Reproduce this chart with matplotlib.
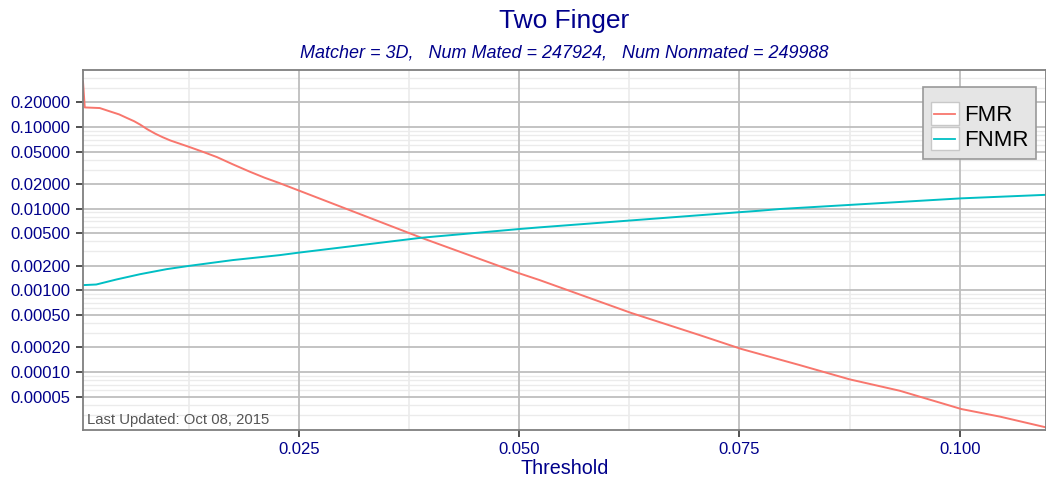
import matplotlib
matplotlib.use("Agg")
import matplotlib.pyplot as plt
from matplotlib.patches import Rectangle
from matplotlib.lines import Line2D
from matplotlib.legend_handler import HandlerBase
import numpy as np

# ---- data ----
fmr_thr = [0.0005, 0.0007, 0.0024, 0.0036, 0.0046, 0.0055, 0.0063, 0.0070, 0.0078, 0.0087,
           0.0095, 0.0104, 0.0115, 0.0126, 0.0141, 0.0157, 0.0175, 0.0194, 0.0211,
           0.0228, 0.0250, 0.0389, 0.0500, 0.0523, 0.0627, 0.0705,
           0.0752, 0.0818, 0.0875, 0.0932, 0.1002, 0.1046, 0.1098]
fmr_val = [0.36, 0.174, 0.171, 0.155, 0.143, 0.129, 0.118, 0.107, 0.094, 0.083,
           0.0755, 0.0686, 0.0625, 0.0569, 0.0498, 0.0429, 0.0350, 0.0285, 0.0240,
           0.0206, 0.0167, 0.00441, 0.00162, 0.00134, 0.00053, 0.000283,
           0.000192, 0.000122, 0.0000814, 0.000059, 0.0000352, 0.0000284, 0.0000210]

fnmr_thr = [0.0005, 0.0020, 0.0043, 0.0070, 0.0100, 0.0126, 0.0175, 0.0228, 0.0250,
            0.0389, 0.0500, 0.0523, 0.0752, 0.0773, 0.0796, 0.1002, 0.1098]
fnmr_val = [0.00116, 0.00118, 0.00136, 0.00158, 0.00182, 0.00200, 0.00235, 0.00270, 0.0029,
            0.00441, 0.00564, 0.00591, 0.0091, 0.00945, 0.00992, 0.0134, 0.0148]

series_names = ["FMR", "FNMR"]
series_colors = ["#F8766D", "#00BFC4"]

x_ticks = [0.025, 0.050, 0.075, 0.100]
x_tick_labels = ["0.025", "0.050", "0.075", "0.100"]
x_minor = [0.0125, 0.0375, 0.0625, 0.0875]
y_ticks = [0.00005, 0.0001, 0.0002, 0.0005, 0.001, 0.002, 0.005, 0.01, 0.02, 0.05, 0.1, 0.2]
y_tick_labels = ["%.5f" % v for v in y_ticks]

title = "Two Finger"
subtitle = "Matcher = 3D,   Num Mated = 247924,   Num Nonmated = 249988"
xlabel = "Threshold"
note = "Last Updated: Oct 08, 2015"

# ---- style ----
plt.rcParams['font.family'] = ['Liberation Sans', 'DejaVu Sans']
navy = "#00008B"
W, H = 1046, 478
fig = plt.figure(figsize=(W / 100, H / 100), dpi=100)
L, R, T, B = 83, 1046, 70, 430
ax = fig.add_axes([L / W, (H - B) / H, (R - L) / W, (B - T) / H])
ax.set_facecolor("white")

ax.set_yscale("log")
ax.set_xlim(0.0005, 0.1098)
ax.set_ylim(1.95e-5, 0.5)

# minor grid
y_minor = []
for dec in [1e-5, 1e-4, 1e-3, 1e-2, 1e-1]:
    for m in [3, 4, 6, 7, 8, 9]:
        y_minor.append(m * dec)
for yv in y_minor:
    ax.axhline(yv, color="#EBEBEB", lw=1.0, zorder=0)
for xv in x_minor:
    ax.axvline(xv, color="#EBEBEB", lw=1.2, zorder=0)
# major grid
for yv in y_ticks:
    ax.axhline(yv, color="#BEBEBE", lw=1.3, zorder=0.5)
for xv in x_ticks:
    ax.axvline(xv, color="#BEBEBE", lw=1.3, zorder=0.5)

lines = []
for thr, val, name, col in zip([fmr_thr, fnmr_thr], [fmr_val, fnmr_val], series_names, series_colors):
    ln, = ax.plot(thr, val, color=col, lw=1.4, label=name, zorder=2)
    lines.append(ln)

ax.set_xticks(x_ticks)
ax.set_xticklabels(x_tick_labels)
ax.set_yticks(y_ticks)
ax.set_yticklabels(y_tick_labels)
ax.yaxis.set_minor_locator(matplotlib.ticker.NullLocator())
ax.tick_params(axis="both", which="major", labelsize=12, labelcolor=navy,
               color="#333333", length=5, width=1.2, pad=4)

for s in ax.spines.values():
    s.set_color("#7F7F7F")
    s.set_linewidth(1.3)

ax.set_xlabel(xlabel, fontsize=14.2, color=navy, labelpad=1)

cx = (L + R) / 2 / W
fig.text(cx, 1 - 21 / H, title, ha="center", va="center", fontsize=19, color=navy)
fig.text(cx, 1 - 53 / H, subtitle, ha="center", va="center", fontsize=13,
         color=navy, style="italic")

ax.text(0.004, 0.008, note, transform=ax.transAxes, fontsize=10.7, color="#555555",
        ha="left", va="bottom")


class KeyHandler(HandlerBase):
    def create_artists(self, legend, orig_handle, xdescent, ydescent, width, height,
                       fontsize, trans):
        rect = Rectangle((-xdescent, -ydescent), width, height, facecolor="white",
                         edgecolor="#C8C8C8", lw=1.0, transform=trans)
        y = -ydescent + height / 2
        ln = Line2D([-xdescent + width * 0.12, -xdescent + width * 0.88], [y, y],
                    color=orig_handle.get_color(), lw=1.3, transform=trans)
        return [rect, ln]


leg = ax.legend(handles=lines, loc="upper right", bbox_to_anchor=(0.990, 0.954),
                borderaxespad=0, fontsize=16, handler_map={Line2D: KeyHandler()},
                handlelength=1.25, handleheight=1.2, handletextpad=0.25,
                labelspacing=0.05, borderpad=0.35, fancybox=False,
                title=" ", title_fontsize=5)
leg.get_frame().set_facecolor("#E5E5E5")
leg.get_frame().set_edgecolor("#999999")
leg.get_frame().set_linewidth(1.2)
leg.get_frame().set_alpha(1)

fig.savefig("out.png", dpi=100)
